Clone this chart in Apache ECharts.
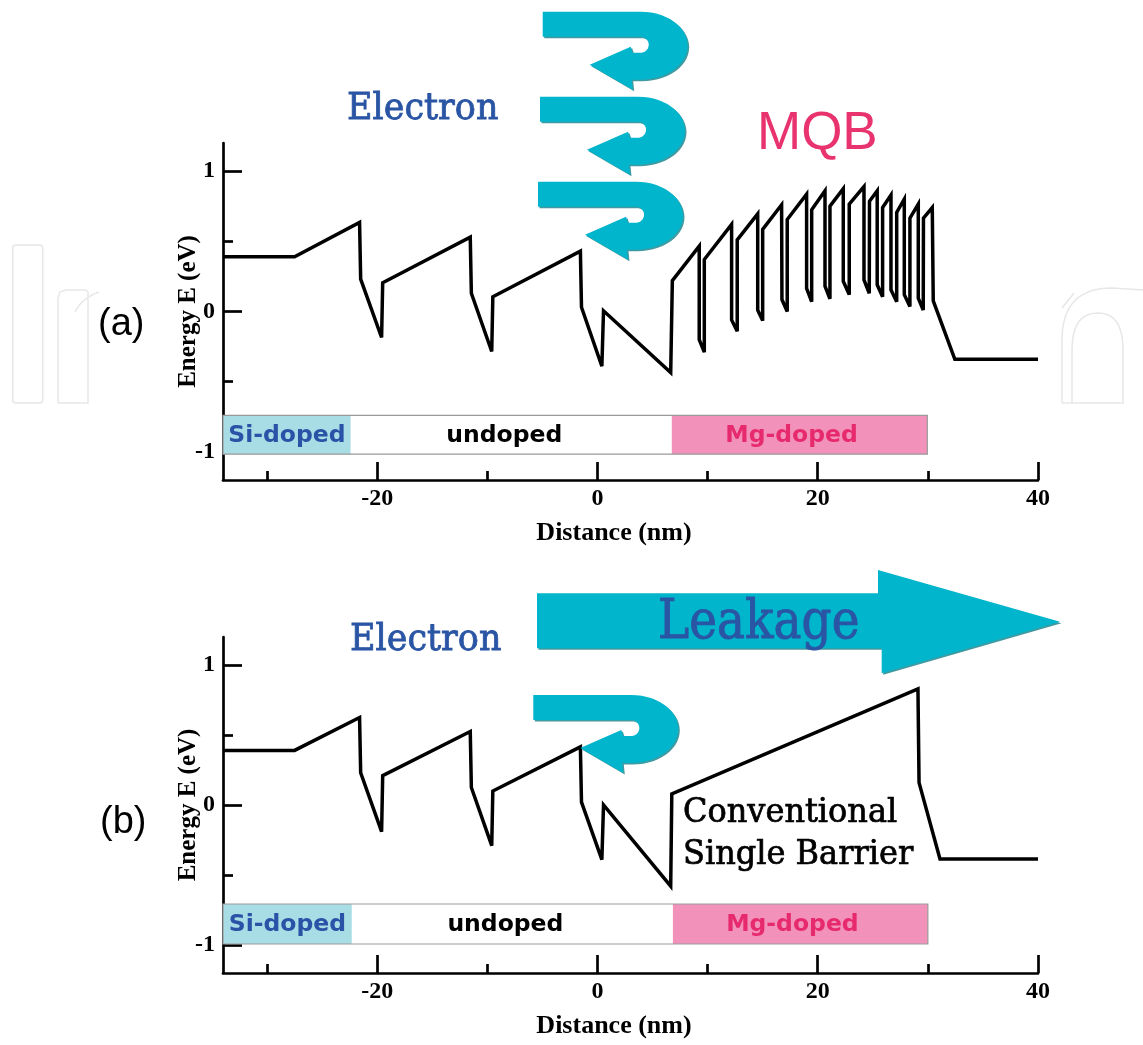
<!DOCTYPE html>
<html>
<head>
<meta charset="utf-8">
<title>Conduction band diagram: MQB vs conventional single barrier</title>
<script src="https://cdn.jsdelivr.net/npm/echarts@6/dist/echarts.min.js"></script>
<style>
  html, body { margin: 0; padding: 0; background: #fff; }
  #chart { width: 1143px; height: 1045px; }
</style>
</head>
<body>
<div id="chart"></div>
<script>
// ---- Panel (a): conduction band edge with multi-quantum barrier (MQB) ----
const distA = [
  -34, -27.5, -21.6, -21.5, -19.6, -19.5, -11.55, -11.45, -9.6, -9.5, -1.55, -1.45, 0.4, 0.55, 6.65, 6.8,
  9.24, 9.24, 9.7, 9.7,
  12.18, 12.18, 12.69, 12.69,
  14.55, 14.55, 15.0, 15.0,
  16.72, 16.75, 17.23, 17.23,
  18.99, 18.99, 19.45, 19.45,
  20.66, 20.66, 21.11, 21.11,
  22.32, 22.32, 22.86, 22.86,
  24.2, 24.2, 24.68, 24.7,
  25.4, 25.4, 25.89, 25.89,
  26.65, 26.65, 27.17, 27.17,
  27.86, 27.86, 28.37, 28.37,
  29.13, 29.13, 29.58, 29.6,
  30.4, 30.49, 32.45, 40
];
const energyA = [
  0.39, 0.39, 0.635, 0.23, -0.185, 0.205, 0.53, 0.13, -0.285, 0.105, 0.43, 0.03, -0.39, 0.005, -0.435, 0.22,
  0.465, -0.2, -0.29, 0.37,
  0.62, -0.06, -0.14, 0.51,
  0.695, 0.01, -0.065, 0.585,
  0.76, 0.085, 0.0, 0.655,
  0.835, 0.165, 0.07, 0.725,
  0.86, 0.18, 0.09, 0.75,
  0.875, 0.215, 0.12, 0.765,
  0.89, 0.225, 0.13, 0.785,
  0.86, 0.19, 0.105, 0.74,
  0.83, 0.155, 0.07, 0.705,
  0.8, 0.12, 0.035, 0.665,
  0.765, 0.095, 0.01, 0.665,
  0.74, 0.075, -0.34, -0.34
];

// ---- Panel (b): conduction band edge with a conventional single barrier ----
const distB = [
  -34, -27.5, -21.6, -21.5, -19.6, -19.5, -11.55, -11.45, -9.6, -9.5, -1.55, -1.45, 0.4, 0.55,
  6.65, 6.75, 29.1, 29.2, 31.1, 40
];
const energyB = [
  0.39, 0.39, 0.625, 0.23, -0.19, 0.21, 0.525, 0.125, -0.29, 0.1, 0.415, 0.02, -0.39, 0.0,
  -0.58, 0.08, 0.83, 0.16, -0.385, -0.385
];

// ---- Doping regions (nm) ----
const regionNames = ['Si-doped', 'undoped', 'Mg-doped'];
const regionStartA = [-34, -22.4, 6.75];
const regionEndA = [-22.4, 6.75, 29.95];
const regionStartB = [-34, -22.3, 6.85];
const regionEndB = [-22.3, 6.85, 30.0];

// ---- Axis ticks ----
const xMajorTicks = [-20, 0, 20, 40];
const xMinorTicks = [-30, -10, 10, 30];
const yMajorTicks = [-1, 0, 1];
const yMinorTicks = [-0.5, 0.5];

const regionFill = ['#a9dde5', '#ffffff', '#f292bb'];
const regionText = ['#2a52a6', '#000000', '#e62a6d'];
const regionLabelShift = [0, -7, -8];

const serif = '"Liberation Serif", "Times New Roman", serif';
const bookSerif = '"DejaVu Serif", Georgia, serif';
const sans = '"Liberation Sans", Arial, sans-serif';
const cyan = '#01b5cc';
const blueText = '#2a55a4';

function pairs(xs, ys) {
  return xs.map((x, i) => [x, ys[i]]);
}

function bandAreas(starts, ends, top, bottom) {
  const areas = regionNames.map((name, i) => [
    {
      name: name,
      xAxis: starts[i], yAxis: top,
      itemStyle: { color: regionFill[i], borderWidth: 0 },
      label: {
        show: true, position: 'inside', offset: [regionLabelShift[i], 1],
        color: regionText[i], fontFamily: '"DejaVu Sans", Verdana, sans-serif',
        fontWeight: 'bold', fontSize: 23.5
      }
    },
    { xAxis: ends[i], yAxis: bottom }
  ]);
  // thin outline around the whole strip
  areas.push([
    { xAxis: starts[0], yAxis: top, itemStyle: { color: 'rgba(0,0,0,0)', borderColor: '#9a9a9a', borderWidth: 1.2 }, label: { show: false } },
    { xAxis: ends[2], yAxis: bottom }
  ]);
  return areas;
}

function xAxes(gi) {
  return [
    {
      type: 'value', gridIndex: gi, position: 'bottom', min: -34, max: 40,
      axisLine: { show: true, onZero: false, lineStyle: { color: '#000', width: 2.7 } },
      axisTick: { show: true, inside: true, length: 18, customValues: xMajorTicks, lineStyle: { color: '#000', width: 2.7 } },
      axisLabel: { customValues: xMajorTicks, margin: 7, color: '#000', fontFamily: serif, fontWeight: 'bold', fontSize: 24 },
      splitLine: { show: false },
      name: 'Distance (nm)', nameLocation: 'middle', nameGap: 40, nameMoveOverlap: false,
      nameTextStyle: { color: '#000', fontFamily: serif, fontWeight: 'bold', fontSize: 26, padding: [0, 33, 0, 0] }
    },
    {
      type: 'value', gridIndex: gi, position: 'bottom', min: -34, max: 40,
      axisLine: { show: false, onZero: false },
      axisTick: { show: true, inside: true, length: 9, customValues: xMinorTicks, lineStyle: { color: '#000', width: 2.7 } },
      axisLabel: { show: false },
      splitLine: { show: false }
    }
  ];
}

function yAxes(gi) {
  return [
    {
      type: 'value', gridIndex: gi, position: 'left', min: -1.2, max: 1.2,
      axisLine: { show: true, onZero: false, lineStyle: { color: '#000', width: 2.7 } },
      axisTick: { show: true, inside: true, length: 19, customValues: yMajorTicks, lineStyle: { color: '#000', width: 2.7 } },
      axisLabel: { customValues: yMajorTicks, margin: 8, color: '#000', fontFamily: serif, fontWeight: 'bold', fontSize: 24 },
      splitLine: { show: false },
      name: 'Energy E (eV)', nameLocation: 'middle', nameGap: 22, nameRotate: 90, nameMoveOverlap: false,
      nameTextStyle: { color: '#000', fontFamily: serif, fontWeight: 'bold', fontSize: 25 }
    },
    {
      type: 'value', gridIndex: gi, position: 'left', min: -1.2, max: 1.2,
      axisLine: { show: false, onZero: false },
      axisTick: { show: true, inside: true, length: 10, customValues: yMinorTicks, lineStyle: { color: '#000', width: 2.7 } },
      axisLabel: { show: false },
      splitLine: { show: false }
    }
  ];
}

// U-turn arrow outline (electron reflected by the barrier), local coordinates
function uTurnPoints(ox, oy) {
  const pts = [[0, 0], [98, 0]];
  const n = 28;
  for (let k = 1; k <= n; k++) {
    const t = -Math.PI / 2 + Math.PI * k / n;
    pts.push([98 + 47 * Math.cos(t), 34 + 34 * Math.sin(t)]);
  }
  pts.push([89, 68], [90, 78], [47, 53], [88, 35], [90, 41], [98, 41]);
  for (let k = 1; k <= n; k++) {
    const t = Math.PI / 2 - Math.PI * k / n;
    pts.push([98 + 8 * Math.cos(t), 33 + 8 * Math.sin(t)]);
  }
  pts.push([0, 25]);
  return pts.map(p => [p[0] + ox, p[1] + oy]);
}

// sampled quadratic curve for the faint background lettering
function quad(p0, p1, p2, n) {
  const out = [];
  for (let k = 0; k <= n; k++) {
    const t = k / n, u = 1 - t;
    out.push([u * u * p0[0] + 2 * u * t * p1[0] + t * t * p2[0], u * u * p0[1] + 2 * u * t * p1[1] + t * t * p2[1]]);
  }
  return out;
}

const arrowStyle = {
  fill: cyan,
  shadowColor: 'rgba(0,120,130,0.75)', shadowOffsetX: 1.5, shadowOffsetY: 1.5, shadowBlur: 0
};

function textEl(str, x, y, font, color, sy, weight) {
  const style = { text: str, font: font, fill: color, textAlign: 'left', textVerticalAlign: 'middle' };
  if (weight) { style.stroke = color; style.lineWidth = weight; }
  return { type: 'text', x: x, y: y, z: 20, scaleY: sy || 1, style: style };
}

const watermark = { stroke: '#e7e7e7', lineWidth: 1.5, fill: null };

const wmOuterN = [[1062, 403], [1062, 340]].concat(quad([1062, 340], [1062, 288], [1112, 288], 16)).concat([[1143, 290]]);
const wmInnerN = [[1072, 403], [1072, 350]].concat(quad([1072, 350], [1072, 313], [1098, 313], 10))
  .concat(quad([1098, 313], [1123, 313], [1123, 350], 10)).concat([[1123, 403], [1072, 403]]);

const graphics = [
  // faint publisher lettering in the background
  { type: 'rect', z: -10, shape: { x: 12.7, y: 245, width: 30, height: 158, r: 3 }, style: watermark },
  { type: 'polyline', z: -10, shape: { points: [[58, 403], [58, 298], [60, 292], [66, 290], [86, 290], [88, 292], [88, 403], [58, 403]] }, style: watermark },
  { type: 'polyline', z: -10, shape: { points: quad([75, 312], [82, 298], [99, 292], 8) }, style: watermark },
  { type: 'polyline', z: -10, shape: { points: wmOuterN }, style: watermark },
  { type: 'polyline', z: -10, shape: { points: wmInnerN }, style: watermark },
  { type: 'polyline', z: -10, shape: { points: [[1062, 403], [1072, 403]] }, style: watermark },
  { type: 'polyline', z: -10, shape: { points: [[1062, 308], [1074, 293]] }, style: watermark },

  // reflected electrons in (a)
  { type: 'polygon', z: 10, shape: { points: uTurnPoints(542.7, 11.7) }, style: arrowStyle },
  { type: 'polygon', z: 10, shape: { points: uTurnPoints(540, 96.7) }, style: arrowStyle },
  { type: 'polygon', z: 10, shape: { points: uTurnPoints(538, 181.7) }, style: arrowStyle },
  // reflected electron in (b)
  { type: 'polygon', z: 10, shape: { points: uTurnPoints(533.3, 695) }, style: arrowStyle },
  // leakage arrow in (b)
  {
    type: 'polygon', z: 10,
    shape: { points: [[537, 593.3], [878, 593.3], [878, 570], [1060, 621.7], [881.7, 673.3], [881.7, 648.3], [537, 648.3]] },
    style: arrowStyle
  },

  textEl('Electron', 347, 109, '35px ' + bookSerif, blueText, 1.06, 0.8),
  textEl('MQB', 757, 134, '53px ' + sans, '#e8336f'),
  textEl('(a)', 98, 325, '38px ' + sans, '#000'),
  textEl('Electron', 350, 640, '35px ' + bookSerif, blueText, 1.06, 0.8),
  textEl('Leakage', 658, 624, '47px ' + bookSerif, blueText, 1.15, 0.8),
  textEl('(b)', 100, 823, '38px ' + sans, '#000'),
  textEl('Conventional', 683, 813.5, '32px ' + bookSerif, '#000', 1.07, 0.7),
  textEl('Single Barrier', 683, 855.5, '32px ' + bookSerif, '#000', 1.07, 0.7)
];

const lineStyle = { color: '#000', width: 3.5, join: 'miter', miterLimit: 4 };

const option = {
  animation: false,
  backgroundColor: '#fff',
  grid: [
    { left: 223, top: 143, width: 815, height: 337 },
    { left: 223, top: 637, width: 815, height: 336 }
  ],
  xAxis: [...xAxes(0), ...xAxes(1)],
  yAxis: [...yAxes(0), ...yAxes(1)],
  series: [
    {
      name: 'MQB', type: 'line', xAxisIndex: 0, yAxisIndex: 0,
      data: pairs(distA, energyA), showSymbol: false, symbol: 'none',
      lineStyle: lineStyle, z: 5,
      markArea: { silent: true, data: bandAreas(regionStartA, regionEndA, -0.74, -1.016) }
    },
    {
      name: 'Single barrier', type: 'line', xAxisIndex: 2, yAxisIndex: 2,
      data: pairs(distB, energyB), showSymbol: false, symbol: 'none',
      lineStyle: lineStyle, z: 5,
      markArea: { silent: true, data: bandAreas(regionStartB, regionEndB, -0.707, -0.993) }
    }
  ],
  graphic: graphics
};

const chart = echarts.init(document.getElementById('chart'), null, { renderer: 'canvas' });
chart.setOption(option);
</script>
</body>
</html>
